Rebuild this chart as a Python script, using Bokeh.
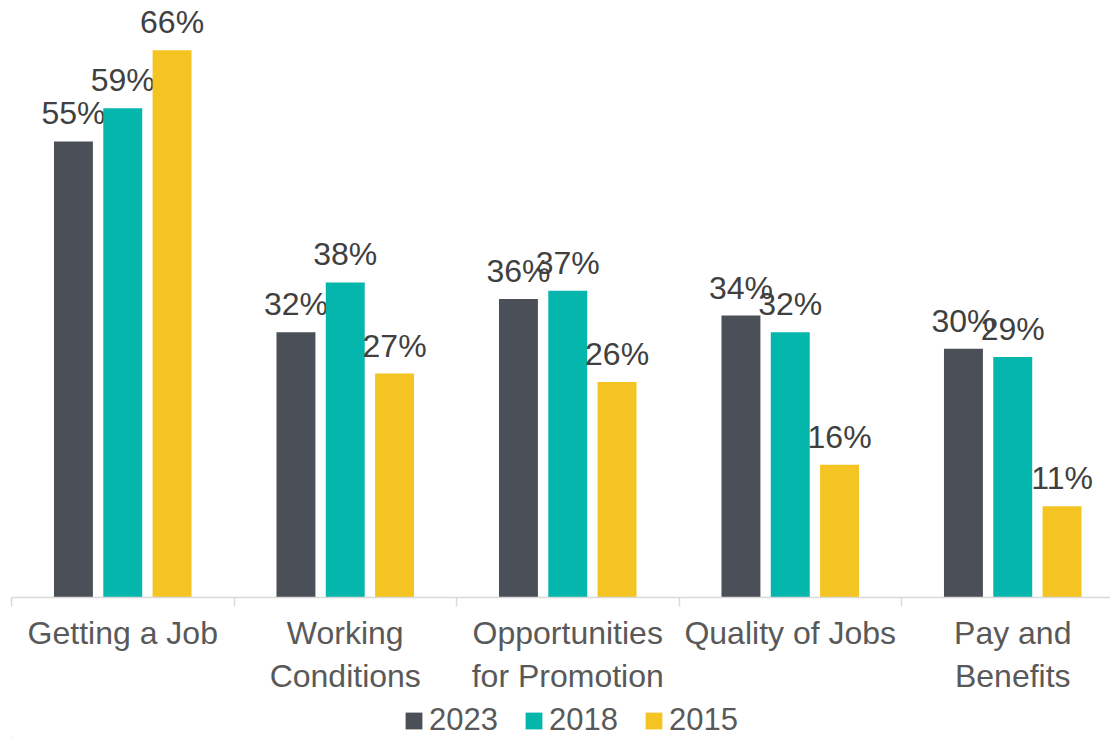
from bokeh.plotting import figure
from bokeh.layouts import column
from bokeh.models import ColumnDataSource, FixedTicker, Legend, LegendItem, Range1d
from bokeh.core.properties import value
from bokeh.embed import file_html
from bokeh.resources import INLINE

categories = ["Getting a Job", "Working\nConditions", "Opportunities\nfor Promotion",
              "Quality of Jobs", "Pay and\nBenefits"]
years = ["2023", "2018", "2015"]
v2023 = [55, 32, 36, 34, 30]
v2018 = [59, 38, 37, 32, 29]
v2015 = [66, 27, 26, 16, 11]
series = [v2023, v2018, v2015]
colors = ["#4B4F58", "#05B6AC", "#F4C423"]

FONT = "Liberation Sans"
PX_PER_CAT = 222.5
PX_PER_PCT = 8.32
LEFT = 11
W = 1110
H_MAIN, H_LEG = 696, 42
AXIS_Y = 599
FRAME_W = W - LEFT
FRAME_H = AXIS_Y

p = figure(width=W, height=H_MAIN,
           x_range=Range1d(0, FRAME_W / PX_PER_CAT),
           y_range=Range1d(0, FRAME_H / PX_PER_PCT),
           output_backend="svg", toolbar_location=None,
           min_border_left=LEFT, min_border_right=0, min_border_top=0,
           min_border_bottom=H_MAIN - AXIS_Y, y_axis_location=None)
p.grid.visible = False
p.outline_line_color = None
p.background_fill_color = "white"
p.border_fill_color = "white"

offsets = [-0.2216, 0.0, 0.2216]
for vals, off, col in zip(series, offsets, colors):
    src = ColumnDataSource(dict(
        x=[i + 0.5 + off for i in range(len(categories))],
        top=vals,
        label=[f"{v}%" for v in vals],
    ))
    p.vbar(x="x", top="top", bottom=0, width=0.175, source=src,
           fill_color=col, line_color=None)
    p.text(x="x", y="top", text="label", source=src,
           text_align="center", text_baseline="alphabetic", y_offset=-28,
           text_font=value(FONT), text_font_size="32px", text_color="#404040")

ax = p.xaxis[0]
ax.ticker = FixedTicker(ticks=[i + 0.5 for i in range(len(categories))],
                        minor_ticks=list(range(len(categories) + 1)))
ax.major_label_overrides = {i + 0.5: c for i, c in enumerate(categories)}
ax.major_tick_line_color = None
ax.major_tick_out = 9
ax.major_tick_in = 0
ax.minor_tick_out = 9
ax.minor_tick_in = 0
ax.minor_tick_line_color = "#D9D9D9"
ax.minor_tick_line_width = 1.5
ax.axis_line_color = "#D9D9D9"
ax.axis_line_width = 1.5
ax.major_label_standoff = 8
ax.major_label_text_font = FONT
ax.major_label_text_font_size = "32px"
ax.major_label_text_color = "#595959"

# legend strip (its glyph renderers hold a point outside the visible range)
lf = figure(width=W, height=H_LEG, x_range=Range1d(0, W), y_range=Range1d(0, H_LEG),
            output_backend="svg", toolbar_location=None,
            x_axis_location=None, y_axis_location=None,
            min_border_left=0, min_border_right=0, min_border_top=0, min_border_bottom=0)
lf.grid.visible = False
lf.outline_line_color = None
lf.border_fill_color = "white"
leg_renderers = [lf.vbar(x=[-500], top=[1], width=1, fill_color=c, line_color=None)
                 for c in colors]
legend = Legend(items=[LegendItem(label=y, renderers=[r]) for y, r in zip(years, leg_renderers)],
                location=(392, 0), orientation="horizontal",
                glyph_width=21, glyph_height=21, label_standoff=5, spacing=25,
                padding=0, margin=0, border_line_color=None, background_fill_alpha=0,
                label_text_font=FONT, label_text_font_size="31px",
                label_text_color="#595959")
lf.add_layout(legend)

open("out.html", "w").write(file_html(column(p, lf), INLINE))
